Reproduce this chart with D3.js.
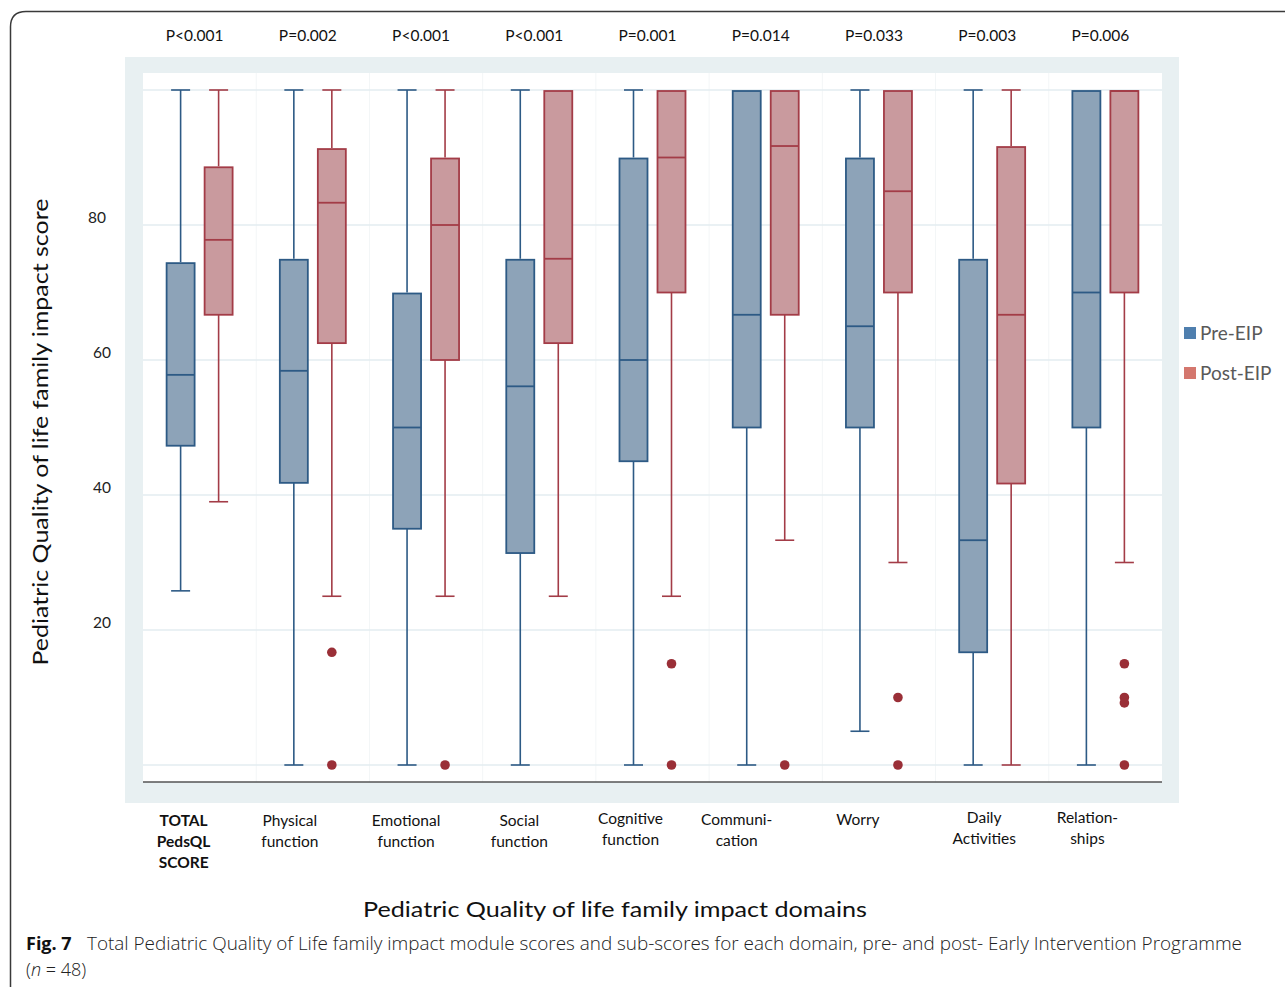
<!DOCTYPE html>
<html><head><meta charset="utf-8">
<script src="https://cdn.jsdelivr.net/npm/d3@7"></script>
<style>body{margin:0;background:#fff}svg{display:block}</style>
</head><body>
<svg id="chart" width="1285" height="987"></svg>
<script>
const categories = ["TOTAL PedsQL SCORE","Physical function","Emotional function","Social function","Cognitive function","Communication","Worry","Daily Activities","Relationships"];
const categoryLabels = [["TOTAL","PedsQL","SCORE"],["Physical","function"],["Emotional","function"],["Social","function"],["Cognitive","function"],["Communi-","cation"],["Worry"],["Daily","Activities"],["Relation-","ships"]];
const pValues = ["P<0.001","P=0.002","P<0.001","P<0.001","P=0.001","P=0.014","P=0.033","P=0.003","P=0.006"];
const series = ["Pre-EIP","Post-EIP"];
const yTicks = [20,40,60,80];
const gridValues = [0,20,40,60,80,100];

const preMin    = [25.8, 0, 0, 0, 0, 0, 5, 0, 0];
const preQ1     = [47.3, 41.8, 35, 31.4, 45, 50, 50, 16.7, 50];
const preMedian = [57.8, 58.4, 50, 56.1, 60, 66.7, 65, 33.3, 70];
const preQ3     = [74.5, 75, 70, 75, 90, 100, 90, 75, 100];
const preMax    = [100, 100, 100, 100, 100, 100, 100, 100, 100];

const postMin    = [39, 25, 25, 25, 25, 33.3, 30, 0, 30];
const postQ1     = [66.7, 62.5, 60, 62.5, 70, 66.7, 70, 41.7, 70];
const postMedian = [77.8, 83.3, 80, 75, 90, 91.7, 85, 66.7, 100];
const postQ3     = [88.7, 91.4, 90, 100, 100, 100, 100, 91.7, 100];
const postMax    = [100, 100, 100, 100, 100, 100, 100, 100, 100];
const postOutliers = [[], [16.7, 0], [0], [], [15, 0], [0], [10, 0], [], [15, 10, 9.2, 0]];

const svg = d3.select("#chart");
const FONT = "Lato, 'Open Sans', sans-serif";

// outer frame with rounded top-left corner
svg.append("path")
  .attr("d", "M10.5,990 L10.5,27 Q10.5,11.5 26,11.5 L1290,11.5")
  .attr("fill", "none").attr("stroke", "#3a3a3a").attr("stroke-width", 1.5);

// plot background
svg.append("rect").attr("x", 125).attr("y", 57).attr("width", 1054).attr("height", 746).attr("fill", "#e8f0f2");
svg.append("rect").attr("x", 143).attr("y", 73).attr("width", 1019).attr("height", 709).attr("fill", "#ffffff");

const x = d3.scaleBand().domain(categories).range([143, 1162]).padding(0);
const bw = x.bandwidth();
const xs = d3.scaleBand().domain(series).range([bw/2 - 38, bw/2 + 38]).padding(0);
const y = d3.scaleLinear().domain([0, 100]).range([765, 90]);

// vertical faint separators
svg.append("g").selectAll("line").data(categories.slice(1)).join("line")
  .attr("x1", d => x(d)).attr("x2", d => x(d))
  .attr("y1", 73).attr("y2", 782)
  .attr("stroke", "#f3f6f7").attr("stroke-width", 1);

// gridlines
svg.append("g").selectAll("line").data(gridValues).join("line")
  .attr("x1", 143).attr("x2", 1162)
  .attr("y1", d => y(d)).attr("y2", d => y(d))
  .attr("stroke", "#e3edf0").attr("stroke-width", 1.5);

// baseline
svg.append("line").attr("x1", 143).attr("x2", 1162)
  .attr("y1", 782).attr("y2", 782).attr("stroke", "#555").attr("stroke-width", 1.5);

// y axis
const yAxis = svg.append("g").attr("transform", "translate(111,0)")
  .call(d3.axisLeft(y).tickValues(yTicks).tickSize(0).tickPadding(0));
yAxis.select(".domain").remove();
yAxis.selectAll("text").attr("font-family", FONT).attr("font-size", 15.5).attr("fill", "#222").attr("dy", "-0.15em")
  .attr("dx", d => d === 80 ? -5 : 0);

// y title
svg.append("text")
  .attr("transform", "translate(48,432) rotate(-90)")
  .attr("text-anchor", "middle").attr("font-family", FONT).attr("font-size", 22).attr("fill", "#111")
  .attr("textLength", 467).attr("lengthAdjust", "spacingAndGlyphs")
  .text("Pediatric Quality of life family impact score");

// p values
svg.append("g").selectAll("text").data(pValues).join("text")
  .attr("x", (d, i) => x(categories[i]) + bw/2 - 5)
  .attr("y", 41).attr("text-anchor", "middle")
  .attr("font-family", FONT).attr("font-size", 15.5).attr("fill", "#111")
  .text(d => d);

// category labels
const labelShift = [-16, -23, -20, -20, -22, -29, -21, -8, -18];
const labelTop = [826, 826, 826, 826, 824, 825, 825, 823, 823];
const lab = svg.append("g").selectAll("text").data(categoryLabels).join("text")
  .attr("text-anchor", "middle").attr("font-family", FONT).attr("font-size", 15.5).attr("fill", "#111")
  .attr("font-weight", (d, i) => i === 0 ? "bold" : "normal")
  .attr("transform", (d, i) => `translate(${x(categories[i]) + bw/2 + labelShift[i]},${labelTop[i]})`);
lab.selectAll("tspan").data(d => d).join("tspan")
  .attr("x", 0).attr("dy", (d, j) => j === 0 ? 0 : 21).text(d => d);

// boxes
const styles = {
  "Pre-EIP":  {fill: "#8da3b8", stroke: "#2d5a85"},
  "Post-EIP": {fill: "#c99a9e", stroke: "#a33c47"}
};
const stats = {
  "Pre-EIP":  {min: preMin, q1: preQ1, med: preMedian, q3: preQ3, max: preMax, out: categories.map(() => [])},
  "Post-EIP": {min: postMin, q1: postQ1, med: postMedian, q3: postQ3, max: postMax, out: postOutliers}
};
const boxW = 28, capW = 19;
const g = svg.append("g");
series.forEach(s => {
  const st = stats[s], sty = styles[s];
  categories.forEach((c, i) => {
    const cx = x(c) + xs(s) + xs.bandwidth()/2;
    const gg = g.append("g");
    if (st.max[i] > st.q3[i]) {
      gg.append("line").attr("x1", cx).attr("x2", cx).attr("y1", y(st.max[i])).attr("y2", y(st.q3[i]))
        .attr("stroke", sty.stroke).attr("stroke-width", 1.6);
      gg.append("line").attr("x1", cx - capW/2).attr("x2", cx + capW/2).attr("y1", y(st.max[i])).attr("y2", y(st.max[i]))
        .attr("stroke", sty.stroke).attr("stroke-width", 1.6);
    }
    if (st.min[i] < st.q1[i]) {
      gg.append("line").attr("x1", cx).attr("x2", cx).attr("y1", y(st.q1[i])).attr("y2", y(st.min[i]))
        .attr("stroke", sty.stroke).attr("stroke-width", 1.6);
      gg.append("line").attr("x1", cx - capW/2).attr("x2", cx + capW/2).attr("y1", y(st.min[i])).attr("y2", y(st.min[i]))
        .attr("stroke", sty.stroke).attr("stroke-width", 1.6);
    }
    gg.append("rect").attr("x", cx - boxW/2).attr("width", boxW)
      .attr("y", y(st.q3[i]) + 1).attr("height", y(st.q1[i]) - y(st.q3[i]) - 1)
      .attr("fill", sty.fill).attr("stroke", sty.stroke).attr("stroke-width", 1.8);
    gg.append("line").attr("x1", cx - boxW/2).attr("x2", cx + boxW/2)
      .attr("y1", y(st.med[i]) + (st.med[i] >= 100 ? 1 : 0)).attr("y2", y(st.med[i]) + (st.med[i] >= 100 ? 1 : 0))
      .attr("stroke", sty.stroke).attr("stroke-width", 1.8);
    gg.selectAll("circle").data(st.out[i]).join("circle")
      .attr("cx", cx).attr("cy", d => y(d)).attr("r", 4.8).attr("fill", "#9a2f37");
  });
});

// legend
const legendColors = {"Pre-EIP": "#4f7fae", "Post-EIP": "#d4776e"};
const lg = svg.append("g").selectAll("g").data(series).join("g")
  .attr("transform", (d, i) => `translate(1184,${327 + i*40})`);
lg.append("rect").attr("width", 12).attr("height", 12).attr("fill", d => legendColors[d]);
lg.append("text").attr("x", 16).attr("y", 12.5).attr("font-family", FONT).attr("font-size", 19)
  .attr("fill", "#595959").text(d => d);

// x title
svg.append("text").attr("x", 615).attr("y", 917).attr("text-anchor", "middle")
  .attr("font-family", FONT).attr("font-size", 22).attr("fill", "#111")
  .attr("textLength", 504).attr("lengthAdjust", "spacingAndGlyphs")
  .text("Pediatric Quality of life family impact domains");

// caption
const CAP = "'Open Sans', 'Noto Sans', sans-serif";
svg.append("text").attr("x", 26).attr("y", 950).attr("font-family", CAP).attr("font-size", 18)
  .attr("font-weight", "bold").attr("fill", "#111").text("Fig. 7");
svg.append("text").attr("x", 87).attr("y", 950).attr("font-family", CAP).attr("font-size", 18)
  .attr("font-weight", 300).attr("fill", "#222")
  .attr("textLength", 1155).attr("lengthAdjust", "spacingAndGlyphs")
  .text("Total Pediatric Quality of Life family impact module scores and sub-scores for each domain, pre- and post- Early Intervention Programme");
const cap2 = svg.append("text").attr("x", 26).attr("y", 976).attr("font-family", CAP).attr("font-size", 18)
  .attr("font-weight", 300).attr("fill", "#222");
cap2.append("tspan").text("(");
cap2.append("tspan").attr("font-style", "italic").text("n");
cap2.append("tspan").text(" = 48)");
</script>
</body></html>
